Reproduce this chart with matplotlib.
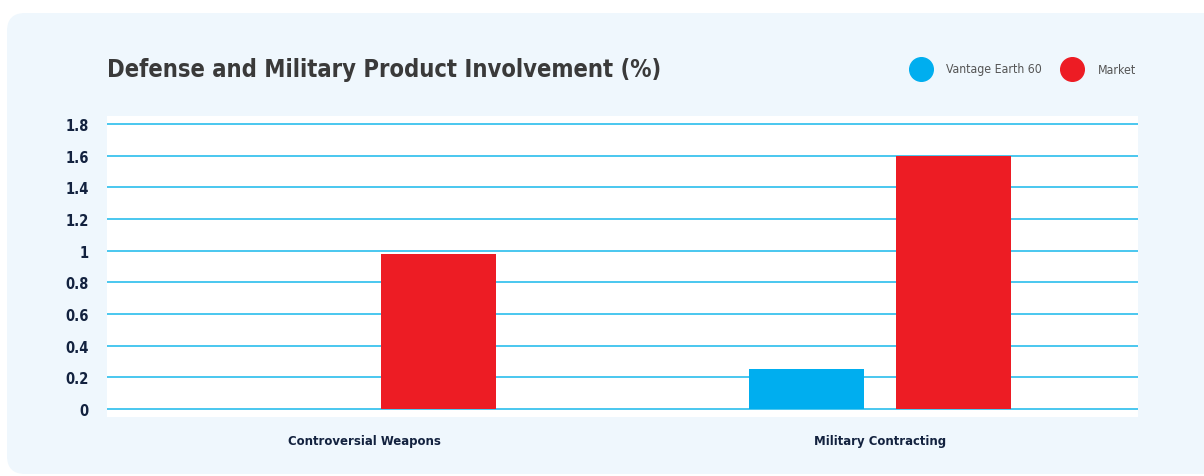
import matplotlib.pyplot as plt
import numpy as np
from matplotlib.patches import FancyBboxPatch
from matplotlib.lines import Line2D

# Chart data
categories = ['Controversial Weapons', 'Military Contracting']
vantage = [0.0, 0.25]
market = [0.98, 1.6]
yticks = [0, 0.2, 0.4, 0.6, 0.8, 1, 1.2, 1.4, 1.6, 1.8]
ytick_labels = ['0', '0.2', '0.4', '0.6', '0.8', '1', '1.2', '1.4', '1.6', '1.8']

blue = '#00AEEF'
red = '#ED1C24'
grid_col = '#3CC3EE'
navy = '#13223F'

plt.rcParams['font.family'] = ['DejaVu Sans']

fig = plt.figure(figsize=(12.04, 4.77), dpi=100)
fig.patch.set_facecolor('white')

# Light blue rounded panel behind everything
panel = FancyBboxPatch((0.07 + 0.18, 0.02 + 0.18), 12.2 - 0.36, 4.61 - 0.36,
                       boxstyle='round,pad=0.18', transform=fig.dpi_scale_trans,
                       facecolor='#EFF7FD', edgecolor='none', zorder=-10)
fig.patches.append(panel)

ax = fig.add_axes([107 / 1204, (477 - 418) / 477, 1031 / 1204, 301 / 477])
ax.set_facecolor('white')

x = np.arange(len(categories))
w = 0.223
off = 0.1426
ax.bar(x - off, vantage, width=w, color=blue, zorder=3)
ax.bar(x + off, market, width=w, color=red, zorder=3)

ax.set_xlim(-0.5, 1.5)
ax.set_ylim(-0.05, 1.85)
ax.set_yticks(yticks)
ax.set_yticklabels(ytick_labels, fontsize=10.5, fontweight='bold', color=navy,
                   fontstretch='condensed')
ax.set_xticks(x)
ax.set_xticklabels(categories, fontsize=9.4, fontweight='bold', color=navy,
                   fontstretch='condensed')
ax.tick_params(axis='both', length=0)
ax.tick_params(axis='y', pad=13)
ax.tick_params(axis='x', pad=12)
for s in ax.spines.values():
    s.set_visible(False)
ax.yaxis.grid(True, color=grid_col, linewidth=1.3, zorder=0)
ax.set_axisbelow(True)

fig.text(107 / 1204, 1 - 70 / 477, 'Defense and Military Product Involvement (%)',
         fontsize=17, fontweight='bold', color='#3A3A3A', va='center',
         fontstretch='condensed')

# Legend drawn with round markers
ly = 1 - 70 / 477
fig.add_artist(Line2D([921 / 1204], [ly], marker='o', markersize=17,
                      color=blue, linestyle='none', transform=fig.transFigure))
fig.text(946 / 1204, ly, 'Vantage Earth 60', fontsize=8.8, color='#555555',
         va='center', fontstretch='condensed')
fig.add_artist(Line2D([1072 / 1204], [ly], marker='o', markersize=17,
                      color=red, linestyle='none', transform=fig.transFigure))
fig.text(1098 / 1204, ly, 'Market', fontsize=8.8, color='#555555',
         va='center', fontstretch='condensed')

fig.savefig('out.png', dpi=100)
